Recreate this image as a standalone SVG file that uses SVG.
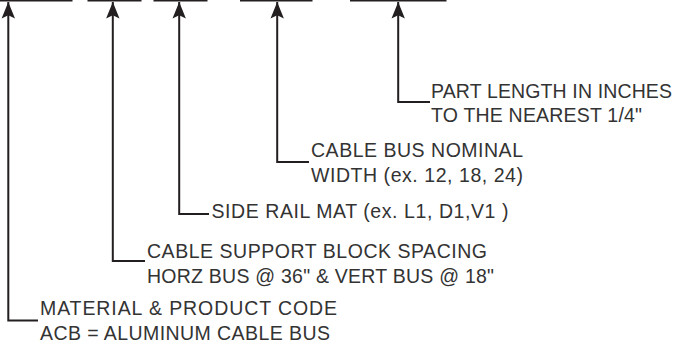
<svg xmlns="http://www.w3.org/2000/svg" width="674" height="345" viewBox="0 0 674 345">
  <defs>
    <style>
      .bar { stroke: #231f20; stroke-width: 1.6; fill: none; }
      .conn { stroke: #231f20; stroke-width: 2; fill: none; }
      .lbl { font-family: "Liberation Sans", Arial, sans-serif; font-size: 19.5px; fill: #333333; }
    </style>
    <marker id="ah" markerUnits="userSpaceOnUse" markerWidth="17" markerHeight="14" viewBox="0 0 17 14" refX="16.5" refY="7" orient="auto-start-reverse">
      <path d="M16.5,7 L0,0.3 L3.2,7 L0,13.7 Z" fill="#231f20"/>
    </marker>
  </defs>
  <rect width="674" height="345" fill="#ffffff"/>

  <g id="fields">
    <line class="bar" x1="0" y1="0.8" x2="72.5" y2="0.8"/>
    <line class="bar" x1="87.5" y1="0.8" x2="141.5" y2="0.8"/>
    <line class="bar" x1="153.5" y1="0.8" x2="207.5" y2="0.8"/>
    <line class="bar" x1="240" y1="0.8" x2="312.5" y2="0.8"/>
    <line class="bar" x1="350" y1="0.8" x2="446.5" y2="0.8"/>
  </g>

  <g id="connectors">
    <path class="conn" marker-start="url(#ah)" d="M8.3,2 V320.5 H38"/>
    <path class="conn" marker-start="url(#ah)" d="M112.8,2 V261 H145"/>
    <path class="conn" marker-start="url(#ah)" d="M179.2,2 V214 H209"/>
    <path class="conn" marker-start="url(#ah)" d="M277.2,2 V162 H309"/>
    <path class="conn" marker-start="url(#ah)" d="M398.2,2 V102 H430"/>
  </g>

  <g id="part-length">
    <text class="lbl" x="431" y="97.5" textLength="241" lengthAdjust="spacing">PART LENGTH IN INCHES</text>
    <text class="lbl" x="431" y="121.5" textLength="211" lengthAdjust="spacing">TO THE NEAREST 1/4"</text>
  </g>

  <g id="nominal-width">
    <text class="lbl" x="311" y="157" textLength="212" lengthAdjust="spacing">CABLE BUS NOMINAL</text>
    <text class="lbl" x="311" y="181.5" textLength="212" lengthAdjust="spacing">WIDTH (ex. 12, 18, 24)</text>
  </g>

  <g id="side-rail">
    <text class="lbl" x="211.5" y="218" textLength="297" lengthAdjust="spacing">SIDE RAIL MAT (ex. L1, D1,V1 )</text>
  </g>

  <g id="block-spacing">
    <text class="lbl" x="147" y="258" textLength="340" lengthAdjust="spacing">CABLE SUPPORT BLOCK SPACING</text>
    <text class="lbl" x="147" y="282.5" textLength="347" lengthAdjust="spacing">HORZ BUS @ 36" &amp; VERT BUS @ 18"</text>
  </g>

  <g id="product-code">
    <text class="lbl" x="40" y="314.5" textLength="297" lengthAdjust="spacing">MATERIAL &amp; PRODUCT CODE</text>
    <text class="lbl" x="40" y="339.5" textLength="290" lengthAdjust="spacing">ACB = ALUMINUM CABLE BUS</text>
  </g>
</svg>
